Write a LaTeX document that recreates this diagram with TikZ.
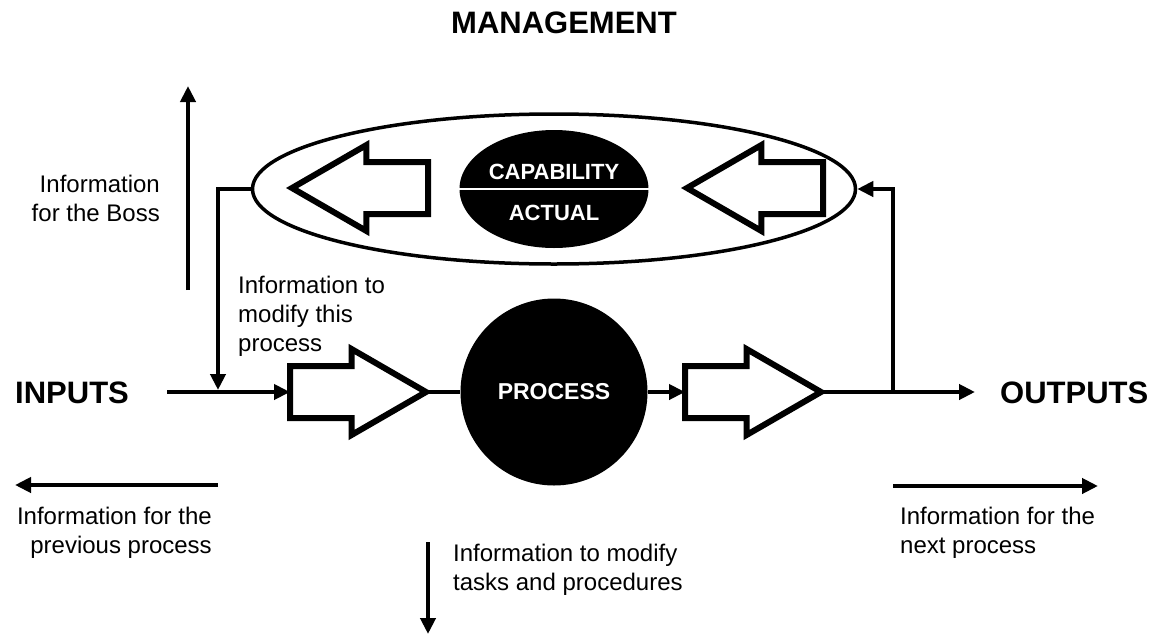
\documentclass[tikz,border=0pt]{standalone}
\usepackage{fontspec}
\setmainfont{Liberation Sans}
\usetikzlibrary{shapes.geometric,shapes.arrows,arrows.meta,positioning}

\tikzset{
  flow/.style = {line width=4.5pt, -{Triangle[length=16pt,width=15pt]}},
  link/.style = {line width=4.5pt},
  hollow/.style = {single arrow, draw, line width=6pt, fill=white, inner xsep=0pt, inner ysep=23pt,
    single arrow head extend=17pt, single arrow tip angle=60, single arrow head indent=0pt,
    minimum height=136pt, minimum width=0pt, outer sep=0pt},
  info/.style = {inner sep=0pt, font=\fontsize{24}{29}\selectfont},
  bigword/.style = {inner sep=0pt, font=\fontsize{31}{36}\selectfont\bfseries},
  whitetext/.style = {inner sep=0pt, text=white, font=\fontsize{22}{26}\selectfont\bfseries},
}

\begin{document}
\begin{tikzpicture}[x=1pt, y=-1pt]
\useasboundingbox (0,0) rectangle (1157,635);

\node[bigword] (management) at (564,23) {MANAGEMENT};
\node[bigword, anchor=west] (inputs) at (15,393) {INPUTS};
\node[bigword, anchor=west] (outputs) at (1000,393) {OUTPUTS};

% management loop
\node[draw, ellipse, line width=3.5pt, minimum width=603pt, minimum height=150pt, inner sep=0pt] (mgmt) at (554,189) {};
\node[ellipse, fill=black, minimum width=189pt, minimum height=118pt, inner sep=0pt] (measure) at (554,189) {};
\draw[white, line width=1.5pt] (measure.west) -- (measure.east);
\node[whitetext] (capability) at (554,172) {CAPABILITY};
\node[whitetext] (actual) at (554,213) {ACTUAL};
\node[hollow, shape border rotate=180, anchor=tail] (backL) at (428,188) {};
\node[hollow, shape border rotate=180, anchor=tail] (backR) at (823,188) {};

% process line
\node[hollow, anchor=tail] (inArrow) at (290,392) {};
\node[hollow, anchor=tail] (outArrow) at (685,392) {};
\node[circle, fill=black, minimum size=187pt, inner sep=0pt, text=white,
  font=\fontsize{23}{27}\selectfont\bfseries] (proc) at (554,392) {PROCESS};

\coordinate (inStart) at (167,392);
\coordinate (fbIn) at (218,390);
\coordinate (split) at (893,392);
\coordinate (outEnd) at (975,392);

\draw[flow] (inStart) -- (inArrow.tail);
\draw[flow] (mgmt.west) -| (fbIn);
\draw[link] (inArrow.tip) -- (proc);
\draw[flow] (proc) -- (outArrow.tail);
\draw[flow] (outArrow.tip) -- (outEnd);
\draw[flow] (split) |- (mgmt.east);

% information flows
\coordinate (bossFrom) at (188,290);
\coordinate (bossTo) at (188,86);
\coordinate (prevFrom) at (218,485);
\coordinate (prevTo) at (15,485);
\coordinate (nextFrom) at (893,486);
\coordinate (nextTo) at (1098,486);
\coordinate (taskFrom) at (428,542);
\coordinate (taskTo) at (428,634);
\draw[flow] (bossFrom) -- (bossTo);
\draw[flow] (prevFrom) -- (prevTo);
\draw[flow] (nextFrom) -- (nextTo);
\draw[flow] (taskFrom) -- (taskTo);

\node[info, anchor=east, align=right] (boss) at (160,198) {Information\\for the Boss};
\node[info, anchor=west, align=left] (modify) at (238,316) {Information to\\modify this\\process};
\node[info, anchor=east, align=right] (previous) at (212,533) {Information for the\\previous process};
\node[info, anchor=west, align=left] (next) at (900,533) {Information for the\\next process};
\node[info, anchor=west, align=left] (tasks) at (453,570) {Information to modify\\tasks and procedures};
\end{tikzpicture}
\end{document}
